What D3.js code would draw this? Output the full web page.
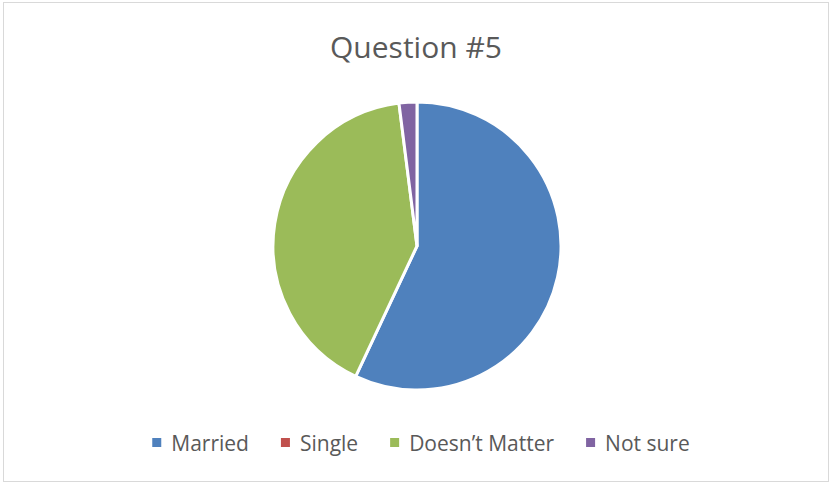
<!DOCTYPE html>
<html>
<head>
<meta charset="utf-8">
<script src="https://cdn.jsdelivr.net/npm/d3@7"></script>
<style>
  body { margin: 0; background: #fff; }
  text { font-family: "Open Sans", "Liberation Sans", sans-serif; fill: #595959; }
</style>
</head>
<body>
<div class="d3-content"></div>
<script>
const SVG_WIDTH = 835;
const SVG_HEIGHT = 487;

const categories = ['Married', 'Single', 'Doesn\u2019t Matter', 'Not sure'];
const values = [57, 0, 41, 2];
const colors = ['#4F81BD', '#C0504D', '#9BBB59', '#8064A2'];
const title = 'Question #5';

const data = categories.map((c, i) => ({ name: c, value: values[i], color: colors[i] }));

const svg = d3.select('.d3-content')
  .append('svg')
  .attr('width', SVG_WIDTH)
  .attr('height', SVG_HEIGHT);

// chart border
svg.append('rect')
  .attr('x', 3.5).attr('y', 2.5)
  .attr('width', 825).attr('height', 479)
  .attr('fill', '#fff')
  .attr('stroke', '#d9d9d9')
  .attr('stroke-width', 1);

svg.append('text')
  .text(title)
  .attr('x', 416)
  .attr('y', 58)
  .attr('text-anchor', 'middle')
  .style('font-size', '30px');

// pie
const RADIUS = 144;
const pie = d3.pie().sort(null).value(d => d.value);
const arc = d3.arc().innerRadius(0).outerRadius(RADIUS);

const chart = svg.append('g')
  .attr('transform', `translate(417, 246)`);

chart.selectAll('path')
  .data(pie(data).filter(d => d.data.value > 0))
  .join('path')
  .attr('d', arc)
  .attr('fill', d => d.data.color)
  .attr('stroke', '#fff')
  .attr('stroke-width', 3)
  .attr('stroke-linejoin', 'round');

// legend, centered
const legend = svg.append('g');
const items = legend.selectAll('g')
  .data(data)
  .join('g');

items.append('rect')
  .attr('width', 9).attr('height', 9)
  .attr('y', -13)
  .attr('fill', d => d.color);

items.append('text')
  .text(d => d.name)
  .attr('x', 19)
  .attr('y', 0)
  .style('font-size', '21px');

const GAP = 32;
let x = 0;
items.each(function () {
  const w = d3.select(this).select('text').node().getComputedTextLength();
  d3.select(this).attr('transform', `translate(${x}, 0)`);
  x += 19 + w + GAP;
});
const total = x - GAP;
legend.attr('transform', `translate(${421 - total / 2}, 451)`);
</script>
</body>
</html>
